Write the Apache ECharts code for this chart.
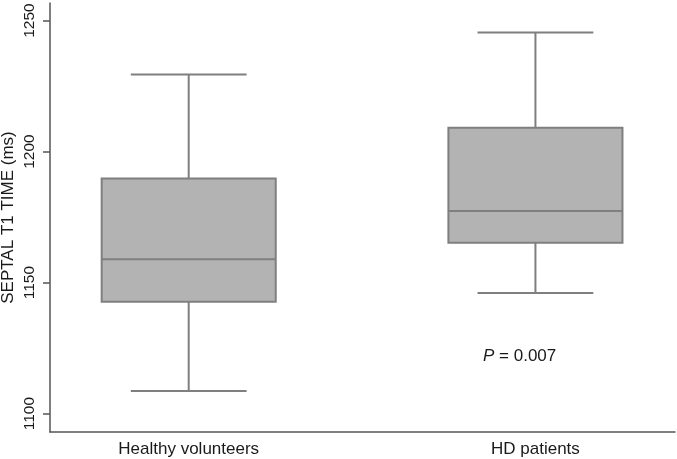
<!DOCTYPE html>
<html>
<head>
<meta charset="utf-8">
<script src="https://cdn.jsdelivr.net/npm/echarts@6/dist/echarts.min.js"></script>
<style>html,body{margin:0;padding:0;background:#fff;}#c{width:677px;height:459px;}</style>
</head>
<body>
<div id="c"></div>
<script>
var categories = ['Healthy volunteers', 'HD patients'];
var lowerWhisker = [1108.6, 1146.0];
var q1 = [1142.7, 1165.2];
var median = [1158.9, 1177.3];
var q3 = [1189.7, 1209.1];
var upperWhisker = [1229.4, 1245.4];
var yTicks = [1100, 1150, 1200, 1250];
var pText = '0.007';

var boxData = categories.map(function (c, i) {
  return [i, lowerWhisker[i], q1[i], median[i], q3[i], upperWhisker[i]];
});

var FONT = '"Liberation Sans", Arial, Helvetica, sans-serif';
var chart = echarts.init(document.getElementById('c'), null, {renderer: 'canvas'});
chart.setOption({
  animation: false,
  backgroundColor: '#ffffff',
  grid: {left: 50, right: 2, top: 3, bottom: 27, containLabel: false, outerBoundsMode: 'none'},
  title: {
    text: '{i|P} = ' + pText,
    left: 478, top: 343,
    textStyle: {
      fontFamily: FONT, fontSize: 17, fontWeight: 'normal', color: '#1a1a1a',
      rich: {i: {fontFamily: FONT, fontSize: 17, fontStyle: 'italic', color: '#1a1a1a'}}
    }
  },
  xAxis: {
    type: 'value',
    min: -0.4, max: 1.4025,
    splitLine: {show: false},
    axisLine: {show: true, onZero: false, lineStyle: {color: '#555555', width: 1.5}},
    axisTick: {show: false},
    axisLabel: {
      customValues: categories.map(function (c, i) { return i; }),
      formatter: function (v) { return categories[Math.round(v)] || ''; },
      fontFamily: FONT, fontSize: 17, color: '#1a1a1a', margin: 9
    }
  },
  yAxis: {
    type: 'value',
    min: 1093, max: 1256.7,
    name: 'SEPTAL T1 TIME (ms)',
    nameLocation: 'middle',
    nameGap: 33,
    nameMoveOverlap: false,
    nameTextStyle: {fontFamily: FONT, fontSize: 17, color: '#1a1a1a'},
    splitLine: {show: false},
    axisLine: {show: true, onZero: false, lineStyle: {color: '#555555', width: 1.5}},
    axisTick: {show: true, length: 7, customValues: yTicks, lineStyle: {color: '#555555', width: 1.5}},
    axisLabel: {
      customValues: yTicks, rotate: 90, margin: 12,
      formatter: function (v) { return String(v); },
      fontFamily: FONT, fontSize: 15.5, color: '#1a1a1a'
    }
  },
  series: [{
    type: 'custom',
    data: boxData,
    encode: {x: 0, y: [1, 2, 3, 4, 5]},
    renderItem: function (params, api) {
      var x = api.value(0);
      var unit = api.size([1, 0])[0];
      var bh = unit * 0.251;
      var ch = unit * 0.167;
      var pLo = api.coord([x, api.value(1)]);
      var pQ1 = api.coord([x, api.value(2)]);
      var pMed = api.coord([x, api.value(3)]);
      var pQ3 = api.coord([x, api.value(4)]);
      var pHi = api.coord([x, api.value(5)]);
      var cx = pQ1[0];
      var ls = {stroke: '#7f7f7f', lineWidth: 2, fill: null};
      return {
        type: 'group',
        children: [
          {type: 'line', shape: {x1: cx, y1: pHi[1], x2: cx, y2: pQ3[1]}, style: ls},
          {type: 'line', shape: {x1: cx, y1: pQ1[1], x2: cx, y2: pLo[1]}, style: ls},
          {type: 'line', shape: {x1: cx - ch, y1: pHi[1], x2: cx + ch, y2: pHi[1]}, style: ls},
          {type: 'line', shape: {x1: cx - ch, y1: pLo[1], x2: cx + ch, y2: pLo[1]}, style: ls},
          {type: 'rect', shape: {x: cx - bh, y: pQ3[1], width: 2 * bh, height: pQ1[1] - pQ3[1]},
            style: {fill: '#b3b3b3', stroke: '#7f7f7f', lineWidth: 2}},
          {type: 'line', shape: {x1: cx - bh, y1: pMed[1], x2: cx + bh, y2: pMed[1]}, style: ls}
        ]
      };
    }
  }]
});
</script>
</body>
</html>
